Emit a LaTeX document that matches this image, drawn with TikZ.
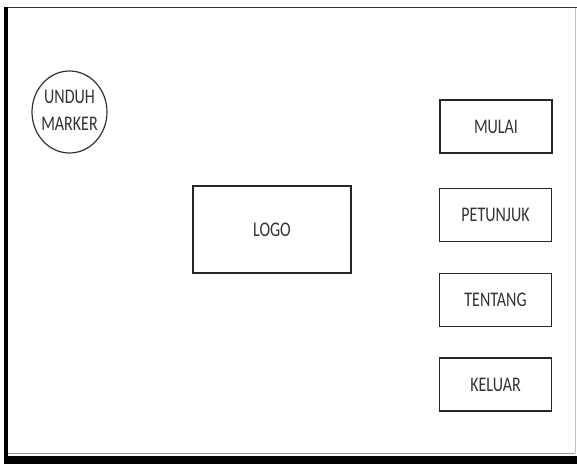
\documentclass[tikz,border=0pt]{standalone}
\usepackage{fontspec}
\setmainfont{Carlito}
\usetikzlibrary{shapes.geometric}
\newcommand{\tall}[1]{\scalebox{1}[1.3]{#1}}
\begin{document}
\begin{tikzpicture}[x=1pt,y=-1pt,
  btn/.style={draw=black!85,line width=1.4pt,rectangle,inner sep=0pt,text=black!80,font=\fontsize{16}{17}\selectfont},
  lbl/.style={font=\fontsize{16}{20.5}\selectfont,text=black!80,inner sep=0pt}]
\useasboundingbox (0,0) rectangle (577,464);
\fill[white] (0,0) rectangle (577,464);
% frame
\draw[black!80,line width=1.5pt] (5,7.5) -- (577,7.5);
\draw[black!25,line width=1pt] (575,7.5) -- (575,453);
\draw[black!40,line width=1pt] (6,453) -- (575,453);
\fill[black] (4,456) rectangle (577,464);
\fill[black] (4,6.5) rectangle (8,464);
% circle
\node[draw=black!80,line width=1.2pt,ellipse,minimum width=75pt,minimum height=82pt,inner sep=0pt] (unduh) at (69.5,112) {};
\node[lbl] (unduhtxt) at (69.5,111.5) {\tall{\begin{tabular}{@{}c@{}}UNDUH\\MARKER\end{tabular}}};
% logo
\node[btn,minimum width=158pt,minimum height=87pt] (logo) at (272,229.5) {\tall{LOGO}};
% buttons
\node[btn,minimum width=112pt,minimum height=53pt] (mulai) at (496,126.5) {\tall{MULAI}};
\node[btn,minimum width=112pt,minimum height=53pt] (petunjuk) at (495.5,215) {\tall{PETUNJUK}};
\node[btn,minimum width=112pt,minimum height=53pt] (tentang) at (495.5,300) {\tall{TENTANG}};
\node[btn,minimum width=112pt,minimum height=53pt] (keluar) at (495.5,384.5) {\tall{KELUAR}};
\end{tikzpicture}
\end{document}
